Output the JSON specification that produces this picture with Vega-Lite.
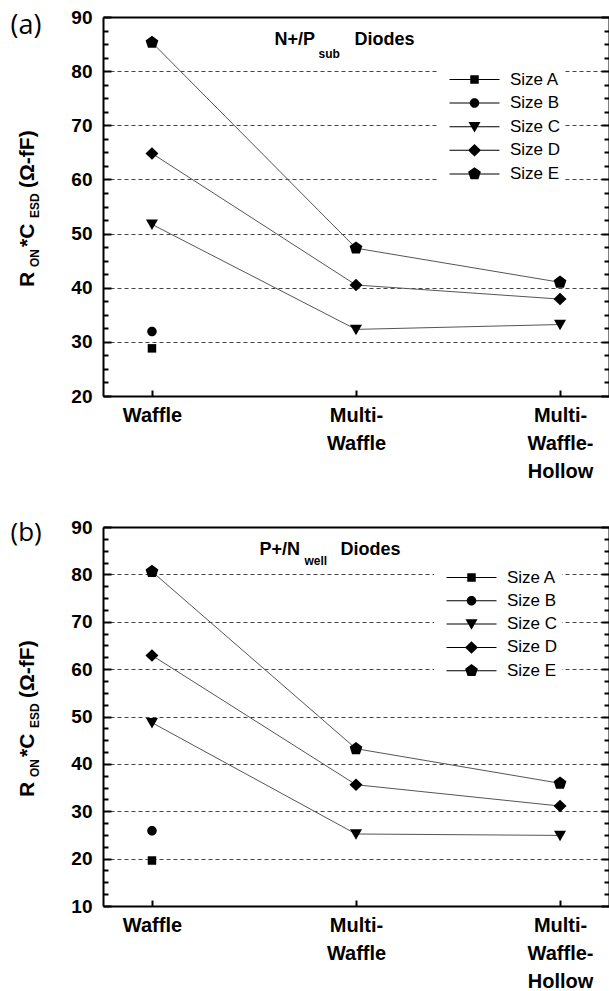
{
  "$schema": "https://vega.github.io/schema/vega-lite/v6.json",
  "padding": {"left": 10, "top": 8, "right": 0, "bottom": 0},
  "config": {
    "view": {"stroke": null},
    "axis": {"labelColor": "black", "tickColor": "black", "domainColor": "black", "titleColor": "black"}
  },
  "spacing": 37,
  "datasets": {
    "a": [
      {"cat": "Waffle", "size": "Size A", "v": 28.8},
      {"cat": "Waffle", "size": "Size B", "v": 31.9},
      {"cat": "Waffle", "size": "Size C", "v": 51.7},
      {"cat": "Waffle", "size": "Size D", "v": 64.8},
      {"cat": "Waffle", "size": "Size E", "v": 85.3},
      {"cat": "Multi-Waffle", "size": "Size C", "v": 32.3},
      {"cat": "Multi-Waffle", "size": "Size D", "v": 40.5},
      {"cat": "Multi-Waffle", "size": "Size E", "v": 47.3},
      {"cat": "Multi-Waffle-Hollow", "size": "Size C", "v": 33.2},
      {"cat": "Multi-Waffle-Hollow", "size": "Size D", "v": 37.9},
      {"cat": "Multi-Waffle-Hollow", "size": "Size E", "v": 41.0}
    ],
    "b": [
      {"cat": "Waffle", "size": "Size A", "v": 19.6},
      {"cat": "Waffle", "size": "Size B", "v": 25.9},
      {"cat": "Waffle", "size": "Size C", "v": 48.7},
      {"cat": "Waffle", "size": "Size D", "v": 62.9},
      {"cat": "Waffle", "size": "Size E", "v": 80.6},
      {"cat": "Multi-Waffle", "size": "Size C", "v": 25.2},
      {"cat": "Multi-Waffle", "size": "Size D", "v": 35.6},
      {"cat": "Multi-Waffle", "size": "Size E", "v": 43.2},
      {"cat": "Multi-Waffle-Hollow", "size": "Size C", "v": 24.9},
      {"cat": "Multi-Waffle-Hollow", "size": "Size D", "v": 31.1},
      {"cat": "Multi-Waffle-Hollow", "size": "Size E", "v": 35.9}
    ]
  },
  "vconcat": [
    {
      "width": 506,
      "height": 379,
      "data": {"name": "a"},
      "resolve": {"scale": {"shape": "independent"}, "axis": {"x": "independent", "y": "independent"}},
      "layer": [
        {
          "mark": {"type": "line", "color": "#555555", "strokeWidth": 1},
          "encoding": {
            "x": {"field": "cat", "type": "ordinal", "sort": ["Waffle", "Multi-Waffle", "Multi-Waffle-Hollow"], "scale": {"type": "point", "padding": 0.24},
              "axis": {"orient": "bottom", "title": null, "labelExpr": "datum.value == 'Multi-Waffle' ? ['Multi-', 'Waffle'] : (datum.value == 'Multi-Waffle-Hollow' ? ['Multi-', 'Waffle-', 'Hollow'] : datum.label)", "labelFont": "Liberation Sans", "labelFontWeight": "bold", "labelFontSize": 20, "labelPadding": 9, "labelBaseline": "top", "labelLineHeight": 28, "labelAngle": 0, "ticks": false, "domain": true, "domainWidth": 2, "grid": false}},
            "y": {"field": "v", "type": "quantitative", "scale": {"domain": [20, 90], "nice": false, "zero": false},
              "axis": {"orient": "left", "values": [20, 30, 40, 50, 60, 70, 80, 90], "labelFont": "Liberation Sans", "labelFontWeight": "bold", "labelFontSize": 19, "labelPadding": 11, "ticks": false, "domain": true, "domainWidth": 2, "grid": false,
                "title": "R", "titleX": -70, "titleY": 269.5, "titleAngle": 270, "titleAlign": "left", "titleBaseline": "alphabetic", "titleFont": "Liberation Sans", "titleFontWeight": "bold", "titleFontSize": 21}},
            "detail": {"field": "size"}
          }
        },
        {
          "mark": {"type": "point", "filled": true, "color": "black", "size": 100, "opacity": 1},
          "encoding": {
            "x": {"field": "cat", "type": "ordinal", "sort": ["Waffle", "Multi-Waffle", "Multi-Waffle-Hollow"], "scale": {"type": "point", "padding": 0.24},
              "axis": {"orient": "top", "labels": false, "ticks": false, "domain": true, "domainWidth": 2, "grid": false,
                "title": "N+/P", "titleX": 171, "titleY": 27.5, "titleAngle": 0, "titleAlign": "left", "titleBaseline": "alphabetic", "titleFont": "Liberation Sans", "titleFontWeight": "bold", "titleFontSize": 18}},
            "y": {"field": "v", "type": "quantitative", "scale": {"domain": [20, 90], "nice": false, "zero": false},
              "axis": {"orient": "right", "labels": false, "ticks": false, "domain": true, "domainWidth": 2, "grid": false, "title": null}},
            "shape": {"field": "size", "type": "nominal", "legend": null,
              "scale": {"domain": ["Size A", "Size B", "Size C", "Size D", "Size E"],
                "range": ["M-0.85,-0.85H0.85V0.85H-0.85Z", "M-0.95,0A0.95,0.95 0 1,1 0.95,0A0.95,0.95 0 1,1 -0.95,0Z", "M-1.2,-0.95L1.2,-0.95L0,1.15Z", "M0,-1.25L1.3,0L0,1.25L-1.3,0Z", "M0,-1.34L1.274,-0.414L0.788,1.084L-0.788,1.084L-1.274,-0.414Z"]}}
          }
        },
        {
          "mark": {"type": "point", "filled": true, "color": "black", "size": 100, "opacity": 0},
          "encoding": {
            "x": {"field": "cat", "type": "ordinal", "sort": ["Waffle", "Multi-Waffle", "Multi-Waffle-Hollow"], "scale": {"type": "point", "padding": 0.24},
              "axis": {"orient": "bottom", "offset": -6, "labels": false, "ticks": true, "tickSize": 6, "tickWidth": 2, "zindex": 1, "domain": false, "grid": false, "title": null}},
            "y": {"field": "v", "type": "quantitative", "scale": {"domain": [20, 90], "nice": false, "zero": false},
              "axis": {"orient": "left", "offset": -8, "values": [20, 30, 40, 50, 60, 70, 80, 90], "labels": false, "ticks": true, "tickSize": 8, "tickWidth": 2, "zindex": 1, "domain": false, "grid": false,
                "title": "ON", "titleX": -73, "titleY": 249.5, "titleAngle": 270, "titleAlign": "left", "titleBaseline": "alphabetic", "titleFont": "Liberation Sans", "titleFontWeight": "bold", "titleFontSize": 12}},
            "shape": {"field": "size", "type": "nominal",
              "scale": {"domain": ["Size A", "Size B", "Size C", "Size D", "Size E"],
                "range": ["M0,-0.1H10V0.1H0Z M4.15,-0.85H5.85V0.85H4.15Z", "M0,-0.1H10V0.1H0Z M4.05,0A0.95,0.95 0 1,1 5.95,0A0.95,0.95 0 1,1 4.05,0Z", "M0,-0.1H10V0.1H0Z M3.8,-0.95L6.2,-0.95L5,1.15Z", "M0,-0.1H10V0.1H0Z M5,-1.25L6.3,0L5,1.25L3.7,0Z", "M0,-0.1H10V0.1H0Z M5,-1.34L6.274,-0.414L5.788,1.084L4.212,1.084L3.726,-0.414Z"]},
              "legend": {"orient": "none", "legendX": 334, "legendY": 50, "title": null, "labelFont": "Liberation Sans", "labelFontSize": 17, "labelColor": "black", "labelOffset": 52, "symbolSize": 100, "symbolFillColor": "black", "symbolStrokeColor": "black", "symbolStrokeWidth": 0, "symbolOpacity": 1, "rowPadding": 5.6, "padding": 4, "fillColor": "white", "strokeColor": null}}
          }
        },
        {
          "mark": {"type": "point", "opacity": 0},
          "encoding": {
            "x": {"field": "cat", "type": "ordinal", "sort": ["Waffle", "Multi-Waffle", "Multi-Waffle-Hollow"], "scale": {"type": "point", "padding": 0.24},
              "axis": {"orient": "top", "labels": false, "ticks": false, "domain": false, "grid": false,
                "title": "sub", "titleX": 215, "titleY": 40, "titleAngle": 0, "titleAlign": "left", "titleBaseline": "alphabetic", "titleFont": "Liberation Sans", "titleFontWeight": "bold", "titleFontSize": 12}},
            "y": {"field": "v", "type": "quantitative", "scale": {"domain": [20, 90], "nice": false, "zero": false},
              "axis": {"orient": "left", "offset": -5, "values": [22.5, 25, 27.5, 32.5, 35, 37.5, 42.5, 45, 47.5, 52.5, 55, 57.5, 62.5, 65, 67.5, 72.5, 75, 77.5, 82.5, 85, 87.5], "labels": false, "ticks": true, "tickSize": 5, "tickWidth": 2, "zindex": 1, "domain": false, "grid": false,
                "title": "*C", "titleX": -75, "titleY": 229.5, "titleAngle": 270, "titleAlign": "left", "titleBaseline": "alphabetic", "titleFont": "Liberation Sans", "titleFontWeight": "bold", "titleFontSize": 21}}
          }
        },
        {
          "mark": {"type": "point", "opacity": 0},
          "encoding": {
            "x": {"field": "cat", "type": "ordinal", "sort": ["Waffle", "Multi-Waffle", "Multi-Waffle-Hollow"], "scale": {"type": "point", "padding": 0.24},
              "axis": {"orient": "top", "labels": false, "ticks": false, "domain": false, "grid": false,
                "title": "Diodes", "titleX": 251, "titleY": 27.5, "titleAngle": 0, "titleAlign": "left", "titleBaseline": "alphabetic", "titleFont": "Liberation Sans", "titleFontWeight": "bold", "titleFontSize": 18}},
            "y": {"field": "v", "type": "quantitative", "scale": {"domain": [20, 90], "nice": false, "zero": false},
              "axis": {"orient": "right", "offset": -5, "values": [22.5, 25, 27.5, 32.5, 35, 37.5, 42.5, 45, 47.5, 52.5, 55, 57.5, 62.5, 65, 67.5, 72.5, 75, 77.5, 82.5, 85, 87.5], "labels": false, "ticks": true, "tickSize": 5, "tickWidth": 2, "zindex": 1, "domain": false, "grid": false, "title": null}}
          }
        },
        {
          "mark": {"type": "point", "opacity": 0},
          "encoding": {
            "x": {"field": "cat", "type": "ordinal", "sort": ["Waffle", "Multi-Waffle", "Multi-Waffle-Hollow"], "scale": {"type": "point", "padding": 0.24},
              "axis": {"orient": "top", "labels": false, "ticks": false, "domain": false, "grid": false,
                "title": "(a)", "titleX": -93, "titleY": 16.5, "titleAngle": 0, "titleAlign": "left", "titleBaseline": "alphabetic", "titleFont": "Open Sans", "titleFontWeight": "normal", "titleFontSize": 27}},
            "y": {"field": "v", "type": "quantitative", "scale": {"domain": [20, 90], "nice": false, "zero": false},
              "axis": {"orient": "left", "values": [30, 40, 50, 60, 70, 80], "labels": false, "ticks": false, "domain": false, "grid": true, "gridColor": "#444444", "gridDash": [4, 3], "gridWidth": 1,
                "title": "ESD", "titleX": -65, "titleY": 200.5, "titleAngle": 270, "titleAlign": "left", "titleBaseline": "alphabetic", "titleFont": "Liberation Sans", "titleFontWeight": "bold", "titleFontSize": 12}}
          }
        },
        {
          "mark": {"type": "point", "opacity": 0},
          "encoding": {
            "x": {"field": "cat", "type": "ordinal", "sort": ["Waffle", "Multi-Waffle", "Multi-Waffle-Hollow"], "scale": {"type": "point", "padding": 0.24},
              "axis": {"orient": "top", "labels": false, "ticks": false, "domain": false, "grid": false,
                "title": "(Ω-fF)", "titleX": -70, "titleY": 170.5, "titleAngle": 270, "titleAlign": "left", "titleBaseline": "alphabetic", "titleFont": "Liberation Sans", "titleFontWeight": "bold", "titleFontSize": 21}},
            "y": {"field": "v", "type": "quantitative", "scale": {"domain": [20, 90], "nice": false, "zero": false},
              "axis": {"orient": "right", "offset": -8, "values": [20, 30, 40, 50, 60, 70, 80, 90], "labels": false, "ticks": true, "tickSize": 8, "tickWidth": 2, "zindex": 1, "domain": false, "grid": false, "title": null}}
          }
        }
      ]
    },
    {
      "width": 506,
      "height": 379,
      "data": {"name": "b"},
      "resolve": {"scale": {"shape": "independent"}, "axis": {"x": "independent", "y": "independent"}},
      "layer": [
        {
          "mark": {"type": "line", "color": "#555555", "strokeWidth": 1},
          "encoding": {
            "x": {"field": "cat", "type": "ordinal", "sort": ["Waffle", "Multi-Waffle", "Multi-Waffle-Hollow"], "scale": {"type": "point", "padding": 0.24},
              "axis": {"orient": "bottom", "title": null, "labelExpr": "datum.value == 'Multi-Waffle' ? ['Multi-', 'Waffle'] : (datum.value == 'Multi-Waffle-Hollow' ? ['Multi-', 'Waffle-', 'Hollow'] : datum.label)", "labelFont": "Liberation Sans", "labelFontWeight": "bold", "labelFontSize": 20, "labelPadding": 9, "labelBaseline": "top", "labelLineHeight": 28, "labelAngle": 0, "ticks": false, "domain": true, "domainWidth": 2, "grid": false}},
            "y": {"field": "v", "type": "quantitative", "scale": {"domain": [10, 90], "nice": false, "zero": false},
              "axis": {"orient": "left", "values": [10, 20, 30, 40, 50, 60, 70, 80, 90], "labelFont": "Liberation Sans", "labelFontWeight": "bold", "labelFontSize": 19, "labelPadding": 11, "ticks": false, "domain": true, "domainWidth": 2, "grid": false,
                "title": "R", "titleX": -70, "titleY": 269.5, "titleAngle": 270, "titleAlign": "left", "titleBaseline": "alphabetic", "titleFont": "Liberation Sans", "titleFontWeight": "bold", "titleFontSize": 21}},
            "detail": {"field": "size"}
          }
        },
        {
          "mark": {"type": "point", "filled": true, "color": "black", "size": 100, "opacity": 1},
          "encoding": {
            "x": {"field": "cat", "type": "ordinal", "sort": ["Waffle", "Multi-Waffle", "Multi-Waffle-Hollow"], "scale": {"type": "point", "padding": 0.24},
              "axis": {"orient": "top", "labels": false, "ticks": false, "domain": true, "domainWidth": 2, "grid": false,
                "title": "P+/N", "titleX": 156, "titleY": 27.5, "titleAngle": 0, "titleAlign": "left", "titleBaseline": "alphabetic", "titleFont": "Liberation Sans", "titleFontWeight": "bold", "titleFontSize": 18}},
            "y": {"field": "v", "type": "quantitative", "scale": {"domain": [10, 90], "nice": false, "zero": false},
              "axis": {"orient": "right", "labels": false, "ticks": false, "domain": true, "domainWidth": 2, "grid": false, "title": null}},
            "shape": {"field": "size", "type": "nominal", "legend": null,
              "scale": {"domain": ["Size A", "Size B", "Size C", "Size D", "Size E"],
                "range": ["M-0.85,-0.85H0.85V0.85H-0.85Z", "M-0.95,0A0.95,0.95 0 1,1 0.95,0A0.95,0.95 0 1,1 -0.95,0Z", "M-1.2,-0.95L1.2,-0.95L0,1.15Z", "M0,-1.25L1.3,0L0,1.25L-1.3,0Z", "M0,-1.34L1.274,-0.414L0.788,1.084L-0.788,1.084L-1.274,-0.414Z"]}}
          }
        },
        {
          "mark": {"type": "point", "filled": true, "color": "black", "size": 100, "opacity": 0},
          "encoding": {
            "x": {"field": "cat", "type": "ordinal", "sort": ["Waffle", "Multi-Waffle", "Multi-Waffle-Hollow"], "scale": {"type": "point", "padding": 0.24},
              "axis": {"orient": "bottom", "offset": -6, "labels": false, "ticks": true, "tickSize": 6, "tickWidth": 2, "zindex": 1, "domain": false, "grid": false, "title": null}},
            "y": {"field": "v", "type": "quantitative", "scale": {"domain": [10, 90], "nice": false, "zero": false},
              "axis": {"orient": "left", "offset": -8, "values": [10, 20, 30, 40, 50, 60, 70, 80, 90], "labels": false, "ticks": true, "tickSize": 8, "tickWidth": 2, "zindex": 1, "domain": false, "grid": false,
                "title": "ON", "titleX": -73, "titleY": 249.5, "titleAngle": 270, "titleAlign": "left", "titleBaseline": "alphabetic", "titleFont": "Liberation Sans", "titleFontWeight": "bold", "titleFontSize": 12}},
            "shape": {"field": "size", "type": "nominal",
              "scale": {"domain": ["Size A", "Size B", "Size C", "Size D", "Size E"],
                "range": ["M0,-0.1H10V0.1H0Z M4.15,-0.85H5.85V0.85H4.15Z", "M0,-0.1H10V0.1H0Z M4.05,0A0.95,0.95 0 1,1 5.95,0A0.95,0.95 0 1,1 4.05,0Z", "M0,-0.1H10V0.1H0Z M3.8,-0.95L6.2,-0.95L5,1.15Z", "M0,-0.1H10V0.1H0Z M5,-1.25L6.3,0L5,1.25L3.7,0Z", "M0,-0.1H10V0.1H0Z M5,-1.34L6.274,-0.414L5.788,1.084L4.212,1.084L3.726,-0.414Z"]},
              "legend": {"orient": "none", "legendX": 331, "legendY": 38, "title": null, "labelFont": "Liberation Sans", "labelFontSize": 17, "labelColor": "black", "labelOffset": 52, "symbolSize": 100, "symbolFillColor": "black", "symbolStrokeColor": "black", "symbolStrokeWidth": 0, "symbolOpacity": 1, "rowPadding": 5.3, "padding": 4, "fillColor": "white", "strokeColor": null}}
          }
        },
        {
          "mark": {"type": "point", "opacity": 0},
          "encoding": {
            "x": {"field": "cat", "type": "ordinal", "sort": ["Waffle", "Multi-Waffle", "Multi-Waffle-Hollow"], "scale": {"type": "point", "padding": 0.24},
              "axis": {"orient": "top", "labels": false, "ticks": false, "domain": false, "grid": false,
                "title": "well", "titleX": 201, "titleY": 37, "titleAngle": 0, "titleAlign": "left", "titleBaseline": "alphabetic", "titleFont": "Liberation Sans", "titleFontWeight": "bold", "titleFontSize": 12}},
            "y": {"field": "v", "type": "quantitative", "scale": {"domain": [10, 90], "nice": false, "zero": false},
              "axis": {"orient": "left", "offset": -5, "values": [12.5, 15, 17.5, 22.5, 25, 27.5, 32.5, 35, 37.5, 42.5, 45, 47.5, 52.5, 55, 57.5, 62.5, 65, 67.5, 72.5, 75, 77.5, 82.5, 85, 87.5], "labels": false, "ticks": true, "tickSize": 5, "tickWidth": 2, "zindex": 1, "domain": false, "grid": false,
                "title": "*C", "titleX": -75, "titleY": 229.5, "titleAngle": 270, "titleAlign": "left", "titleBaseline": "alphabetic", "titleFont": "Liberation Sans", "titleFontWeight": "bold", "titleFontSize": 21}}
          }
        },
        {
          "mark": {"type": "point", "opacity": 0},
          "encoding": {
            "x": {"field": "cat", "type": "ordinal", "sort": ["Waffle", "Multi-Waffle", "Multi-Waffle-Hollow"], "scale": {"type": "point", "padding": 0.24},
              "axis": {"orient": "top", "labels": false, "ticks": false, "domain": false, "grid": false,
                "title": "Diodes", "titleX": 237, "titleY": 27.5, "titleAngle": 0, "titleAlign": "left", "titleBaseline": "alphabetic", "titleFont": "Liberation Sans", "titleFontWeight": "bold", "titleFontSize": 18}},
            "y": {"field": "v", "type": "quantitative", "scale": {"domain": [10, 90], "nice": false, "zero": false},
              "axis": {"orient": "right", "offset": -5, "values": [12.5, 15, 17.5, 22.5, 25, 27.5, 32.5, 35, 37.5, 42.5, 45, 47.5, 52.5, 55, 57.5, 62.5, 65, 67.5, 72.5, 75, 77.5, 82.5, 85, 87.5], "labels": false, "ticks": true, "tickSize": 5, "tickWidth": 2, "zindex": 1, "domain": false, "grid": false, "title": null}}
          }
        },
        {
          "mark": {"type": "point", "opacity": 0},
          "encoding": {
            "x": {"field": "cat", "type": "ordinal", "sort": ["Waffle", "Multi-Waffle", "Multi-Waffle-Hollow"], "scale": {"type": "point", "padding": 0.24},
              "axis": {"orient": "top", "labels": false, "ticks": false, "domain": false, "grid": false,
                "title": "(b)", "titleX": -93, "titleY": 13.5, "titleAngle": 0, "titleAlign": "left", "titleBaseline": "alphabetic", "titleFont": "Open Sans", "titleFontWeight": "normal", "titleFontSize": 26}},
            "y": {"field": "v", "type": "quantitative", "scale": {"domain": [10, 90], "nice": false, "zero": false},
              "axis": {"orient": "left", "values": [20, 30, 40, 50, 60, 70, 80], "labels": false, "ticks": false, "domain": false, "grid": true, "gridColor": "#444444", "gridDash": [4, 3], "gridWidth": 1,
                "title": "ESD", "titleX": -65, "titleY": 200.5, "titleAngle": 270, "titleAlign": "left", "titleBaseline": "alphabetic", "titleFont": "Liberation Sans", "titleFontWeight": "bold", "titleFontSize": 12}}
          }
        },
        {
          "mark": {"type": "point", "opacity": 0},
          "encoding": {
            "x": {"field": "cat", "type": "ordinal", "sort": ["Waffle", "Multi-Waffle", "Multi-Waffle-Hollow"], "scale": {"type": "point", "padding": 0.24},
              "axis": {"orient": "top", "labels": false, "ticks": false, "domain": false, "grid": false,
                "title": "(Ω-fF)", "titleX": -70, "titleY": 170.5, "titleAngle": 270, "titleAlign": "left", "titleBaseline": "alphabetic", "titleFont": "Liberation Sans", "titleFontWeight": "bold", "titleFontSize": 21}},
            "y": {"field": "v", "type": "quantitative", "scale": {"domain": [10, 90], "nice": false, "zero": false},
              "axis": {"orient": "right", "offset": -8, "values": [10, 20, 30, 40, 50, 60, 70, 80, 90], "labels": false, "ticks": true, "tickSize": 8, "tickWidth": 2, "zindex": 1, "domain": false, "grid": false, "title": null}}
          }
        }
      ]
    }
  ]
}
